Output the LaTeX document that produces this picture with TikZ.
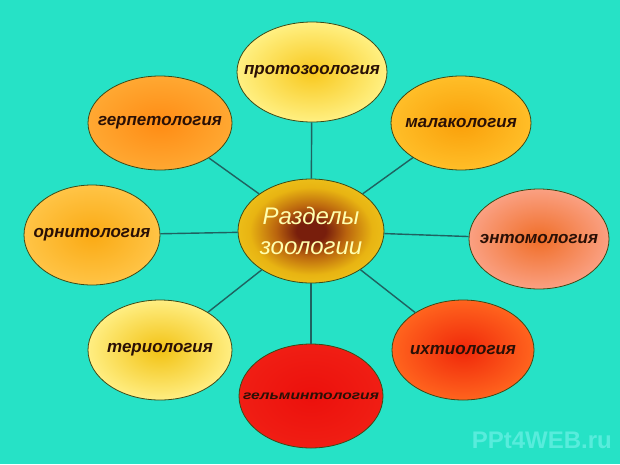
\documentclass[tikz,border=0pt]{standalone}
\usepackage{fontspec}
\setmainfont{Liberation Sans}
\usetikzlibrary{shapes.geometric}
\definecolor{bg}{HTML}{26E2C6}
\definecolor{edgeol}{HTML}{3C4A18}
\definecolor{spk}{HTML}{1F6260}
\definecolor{labc}{HTML}{2A1006}
\definecolor{ctxt}{HTML}{FFFFB0}
\definecolor{wm}{HTML}{58ECDC}
\definecolor{cCore}{RGB}{120,30,12}
\definecolor{cMid}{RGB}{186,100,14}
\definecolor{cIn}{RGB}{232,180,18}\definecolor{cOut}{RGB}{242,204,34}
\definecolor{pIn}{RGB}{248,200,30}\definecolor{pOut}{RGB}{255,240,130}
\definecolor{gIn}{RGB}{255,140,20}\definecolor{gOut}{RGB}{255,168,50}
\definecolor{mIn}{RGB}{250,160,10}\definecolor{mOut}{RGB}{255,190,40}
\definecolor{oIn}{RGB}{250,170,20}\definecolor{oOut}{RGB}{255,196,70}
\definecolor{eIn}{RGB}{240,110,40}\definecolor{eOut}{RGB}{250,160,130}
\definecolor{tIn}{RGB}{242,194,20}\definecolor{tOut}{RGB}{255,238,130}
\definecolor{iIn}{RGB}{240,40,10}\definecolor{iOut}{RGB}{255,100,30}
\definecolor{hIn}{RGB}{236,16,12}\definecolor{hOut}{RGB}{240,30,20}
\pgfdeclareradialshading{centreshade}{\pgfpoint{0bp}{0bp}}{%
  color(0bp)=(cCore); color(5bp)=(cCore); color(12bp)=(cMid);
  color(21bp)=(cIn); color(32bp)=(cOut); color(50bp)=(cOut)}
\begin{document}
\begin{tikzpicture}[x=1pt,y=-1pt,
  bub/.style={ellipse,draw=edgeol,line width=0.8pt,inner sep=0pt},
  lab/.style={font=\fontsize{17}{17}\selectfont\bfseries\itshape,text=labc,inner sep=0pt},
  spoke/.style={draw=spk,line width=1.4pt}]
\fill[bg] (0,0) rectangle (620,464);
\useasboundingbox (0,0) rectangle (620,464);
% bubbles
\node[bub,minimum width=146pt,minimum height=104pt,shading=centreshade] (c) at (311,231) {};
\node[bub,minimum width=150pt,minimum height=100pt,inner color=pIn,outer color=pOut] (proto) at (312,72) {};
\node[bub,minimum width=144pt,minimum height=94pt,inner color=gIn,outer color=gOut] (gerp) at (160,123) {};
\node[bub,minimum width=140pt,minimum height=94pt,inner color=mIn,outer color=mOut] (mala) at (461,123) {};
\node[bub,minimum width=136pt,minimum height=100pt,inner color=oIn,outer color=oOut] (orni) at (92,235) {};
\node[bub,minimum width=140pt,minimum height=100pt,inner color=eIn,outer color=eOut] (ento) at (539,239) {};
\node[bub,minimum width=144pt,minimum height=100pt,inner color=tIn,outer color=tOut] (teri) at (160,350) {};
\node[bub,minimum width=142pt,minimum height=100pt,inner color=iIn,outer color=iOut] (ikht) at (463,350) {};
\node[bub,minimum width=144pt,minimum height=104pt,inner color=hIn,outer color=hOut] (gelm) at (311,396) {};
% spokes
\foreach \n in {proto,gerp,mala,orni,ento,teri,ikht,gelm}
  \draw[spoke] (c) -- (\n);
% labels
\node[lab] (tproto) at (proto.center) {протозоология};
\node[lab] (tgerp) at (gerp.center) {герпетология};
\node[lab] (tmala) at (mala.center) {малакология};
\node[lab] (torni) at (orni.center) {орнитология};
\node[lab] (tento) at (ento.center) {энтомология};
\node[lab] (tteri) at (teri.center) {териология};
\node[lab] (tikht) at (ikht.center) {ихтиология};
\node[lab,xscale=0.92,yscale=0.72] (tgelm) at (gelm.center) {гельминтология};
\node[font=\fontsize{24}{30}\selectfont\itshape,text=ctxt,align=center,inner sep=0pt] (tc) at (c.center) {Разделы\\зоологии};
\node[font=\fontsize{24}{24}\selectfont\bfseries,text=wm,inner sep=0pt,anchor=east] (wmk) at (612,440) {PPt4WEB.ru};
\end{tikzpicture}
\end{document}
